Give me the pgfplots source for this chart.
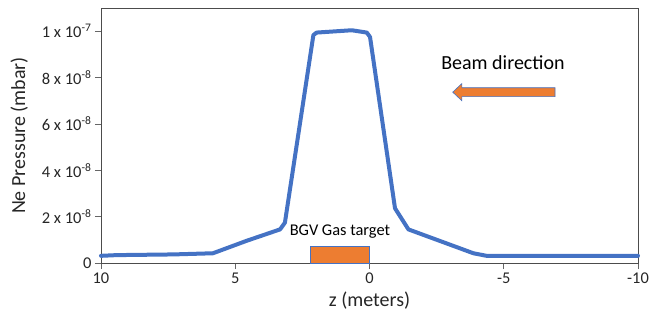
\documentclass[border=0pt]{standalone}
\usepackage{fontspec}
\setmainfont{Carlito}
\usepackage{pgfplots}
\pgfplotsset{compat=1.18}
\definecolor{lineblue}{HTML}{4472C4}
\definecolor{barorange}{HTML}{ED7D31}
\begin{document}
\begin{tikzpicture}
\begin{axis}[
  scale only axis,
  width=537pt, height=255pt,
  xmin=-10, xmax=10, ymin=0, ymax=11,
  x dir=reverse,
  axis lines=box,
  axis line style={draw=black!70, line width=0.8pt},
  xtick={-10,-5,0,5,10},
  xticklabels={-10,-5,0,5,10},
  ytick={0,2,4,6,8,10},
  yticklabels={0,2 x 10\textsuperscript{-8},4 x 10\textsuperscript{-8},6 x 10\textsuperscript{-8},8 x 10\textsuperscript{-8},1 x 10\textsuperscript{-7}},
  tick align=outside,
  xtick pos=bottom, ytick pos=left,
  major tick length=6pt,
  tick style={draw=black!60, line width=0.8pt},
  /pgf/number format/assume math mode=true,
  xticklabel style={font=\fontsize{16.4}{18}\selectfont, text=black!85},
  yticklabel style={font=\fontsize{16.5}{18}\selectfont, text=black!85},
  xlabel={z (meters)},
  ylabel={Ne Pressure (mbar)},
  label style={font=\fontsize{20}{22}\selectfont, text=black!85},
  xlabel style={yshift=-2pt},
  ylabel style={yshift=7pt},
  clip=false,
]
\addplot[draw=lineblue, line width=4pt, line join=round, line cap=round] coordinates {
(10,0.31)(9.42,0.34)(7.3,0.37)(5.83,0.42)(4.57,0.96)(3.33,1.45)(3.15,1.74)(2.09,9.83)(1.97,9.94)(0.66,10.04)(0.1,9.94)(-0.02,9.75)(-0.95,2.36)(-1.45,1.45)(-3.87,0.42)(-4.36,0.31)(-10,0.31)
};
\addplot[fill=barorange, draw=lineblue, line width=0.6pt] coordinates {
(2.2,0)(2.2,0.70)(0,0.70)(0,0)
} -- cycle;
\addplot[fill=barorange, draw=lineblue, line width=0.6pt] coordinates {
(-6.91,7.18)(-6.91,7.56)(-3.44,7.56)(-3.44,7.74)(-3.1,7.37)(-3.44,7.0)(-3.44,7.18)
} -- cycle;
\node[font=\fontsize{16.4}{18}\selectfont, text=black] at (axis cs:1.1,1.34) {BGV Gas target};
\node[font=\fontsize{20}{22}\selectfont, text=black] at (axis cs:-4.97,8.64) {Beam direction};
\end{axis}
\path[use as bounding box] ([xshift=-101pt,yshift=-49pt]current axis.south west) rectangle ([xshift=20pt,yshift=8pt]current axis.north east);
\end{tikzpicture}
\end{document}
